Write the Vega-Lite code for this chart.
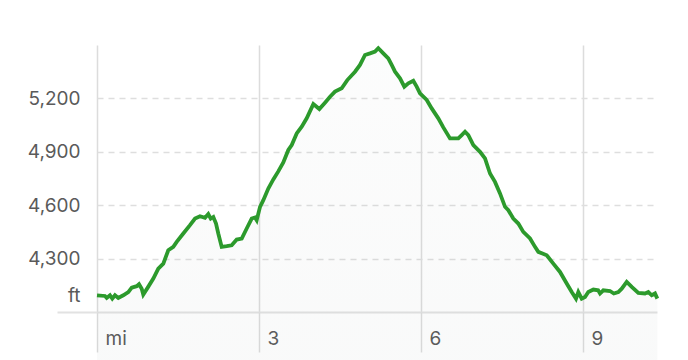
{
  "$schema": "https://vega.github.io/schema/vega-lite/v6.json",
  "width": 560,
  "height": 267,
  "autosize": {"type": "none"},
  "padding": {"left": 97, "top": 45, "right": 31, "bottom": 48},
  "background": "white",
  "config": {
    "view": {"stroke": null},
    "axis": {"labelFont": "Inter", "labelFontSize": 19, "labelColor": "#5a5a5a", "title": null}
  },
  "data": {
    "values": [
      {"mi": 0.0, "ft": 4094}, {"mi": 0.148, "ft": 4090}, {"mi": 0.18, "ft": 4079}, {"mi": 0.24, "ft": 4094},
      {"mi": 0.283, "ft": 4075}, {"mi": 0.333, "ft": 4094}, {"mi": 0.394, "ft": 4079}, {"mi": 0.487, "ft": 4094},
      {"mi": 0.58, "ft": 4112}, {"mi": 0.643, "ft": 4137}, {"mi": 0.735, "ft": 4145}, {"mi": 0.778, "ft": 4156},
      {"mi": 0.828, "ft": 4131}, {"mi": 0.857, "ft": 4098}, {"mi": 0.939, "ft": 4137}, {"mi": 1.043, "ft": 4188},
      {"mi": 1.135, "ft": 4244}, {"mi": 1.228, "ft": 4272}, {"mi": 1.32, "ft": 4347}, {"mi": 1.413, "ft": 4366},
      {"mi": 1.476, "ft": 4394}, {"mi": 1.598, "ft": 4441}, {"mi": 1.722, "ft": 4488}, {"mi": 1.815, "ft": 4525},
      {"mi": 1.907, "ft": 4538}, {"mi": 2.0, "ft": 4529}, {"mi": 2.061, "ft": 4550}, {"mi": 2.106, "ft": 4525},
      {"mi": 2.154, "ft": 4534}, {"mi": 2.204, "ft": 4497}, {"mi": 2.246, "ft": 4441}, {"mi": 2.309, "ft": 4366},
      {"mi": 2.402, "ft": 4370}, {"mi": 2.494, "ft": 4375}, {"mi": 2.587, "ft": 4407}, {"mi": 2.68, "ft": 4413},
      {"mi": 2.772, "ft": 4469}, {"mi": 2.865, "ft": 4525}, {"mi": 2.926, "ft": 4531}, {"mi": 2.957, "ft": 4516},
      {"mi": 3.019, "ft": 4591}, {"mi": 3.08, "ft": 4628}, {"mi": 3.172, "ft": 4694}, {"mi": 3.265, "ft": 4745},
      {"mi": 3.357, "ft": 4790}, {"mi": 3.45, "ft": 4840}, {"mi": 3.543, "ft": 4910}, {"mi": 3.606, "ft": 4938},
      {"mi": 3.698, "ft": 5003}, {"mi": 3.791, "ft": 5041}, {"mi": 3.883, "ft": 5088}, {"mi": 4.006, "ft": 5168},
      {"mi": 4.117, "ft": 5140}, {"mi": 4.222, "ft": 5176}, {"mi": 4.315, "ft": 5209}, {"mi": 4.407, "ft": 5238},
      {"mi": 4.531, "ft": 5257}, {"mi": 4.635, "ft": 5303}, {"mi": 4.778, "ft": 5350}, {"mi": 4.87, "ft": 5388},
      {"mi": 4.963, "ft": 5444}, {"mi": 5.056, "ft": 5453}, {"mi": 5.148, "ft": 5463}, {"mi": 5.209, "ft": 5482},
      {"mi": 5.302, "ft": 5453}, {"mi": 5.394, "ft": 5425}, {"mi": 5.457, "ft": 5388}, {"mi": 5.519, "ft": 5350},
      {"mi": 5.611, "ft": 5313}, {"mi": 5.691, "ft": 5266}, {"mi": 5.765, "ft": 5285}, {"mi": 5.857, "ft": 5299},
      {"mi": 5.92, "ft": 5266}, {"mi": 5.981, "ft": 5228}, {"mi": 6.106, "ft": 5191}, {"mi": 6.198, "ft": 5144},
      {"mi": 6.32, "ft": 5088}, {"mi": 6.413, "ft": 5037}, {"mi": 6.537, "ft": 4975}, {"mi": 6.691, "ft": 4975},
      {"mi": 6.754, "ft": 4994}, {"mi": 6.815, "ft": 5013}, {"mi": 6.876, "ft": 4994}, {"mi": 6.969, "ft": 4938},
      {"mi": 7.093, "ft": 4900}, {"mi": 7.185, "ft": 4863}, {"mi": 7.278, "ft": 4778}, {"mi": 7.37, "ft": 4731},
      {"mi": 7.463, "ft": 4666}, {"mi": 7.556, "ft": 4591}, {"mi": 7.617, "ft": 4572}, {"mi": 7.709, "ft": 4525},
      {"mi": 7.802, "ft": 4497}, {"mi": 7.894, "ft": 4450}, {"mi": 8.019, "ft": 4413}, {"mi": 8.111, "ft": 4366},
      {"mi": 8.172, "ft": 4338}, {"mi": 8.328, "ft": 4319}, {"mi": 8.45, "ft": 4272}, {"mi": 8.574, "ft": 4225},
      {"mi": 8.698, "ft": 4160}, {"mi": 8.791, "ft": 4112}, {"mi": 8.87, "ft": 4075}, {"mi": 8.913, "ft": 4112},
      {"mi": 8.976, "ft": 4075}, {"mi": 9.037, "ft": 4084}, {"mi": 9.098, "ft": 4112}, {"mi": 9.191, "ft": 4126},
      {"mi": 9.28, "ft": 4122}, {"mi": 9.315, "ft": 4104}, {"mi": 9.376, "ft": 4122}, {"mi": 9.5, "ft": 4118},
      {"mi": 9.57, "ft": 4104}, {"mi": 9.654, "ft": 4112}, {"mi": 9.717, "ft": 4131}, {"mi": 9.809, "ft": 4169},
      {"mi": 9.902, "ft": 4141}, {"mi": 10.024, "ft": 4107}, {"mi": 10.148, "ft": 4104}, {"mi": 10.209, "ft": 4112},
      {"mi": 10.272, "ft": 4094}, {"mi": 10.333, "ft": 4104}, {"mi": 10.376, "ft": 4075}
    ]
  },
  "encoding": {
    "x": {
      "field": "mi", "type": "quantitative",
      "scale": {"domain": [0, 10.37], "nice": false, "zero": false},
      "axis": {
        "values": [0, 3, 6, 9],
        "labelExpr": "datum.value == 0 ? 'mi' : datum.label",
        "grid": true, "gridColor": "#dcdcdc", "gridWidth": 1.5,
        "domain": false,
        "ticks": true, "tickSize": 40, "tickColor": "#dcdcdc", "tickWidth": 1.5,
        "labelAlign": "left", "labelBaseline": "middle",
        "labelPadding": -14, "labelOffset": 8,
        "labelFlush": false, "labelBound": false, "labelOverlap": false
      }
    },
    "y": {
      "field": "ft", "type": "quantitative",
      "scale": {"domain": [4000, 5500], "nice": false, "zero": false},
      "axis": {
        "values": [4000, 4300, 4600, 4900, 5200],
        "labelExpr": "datum.value == 4000 ? 'ft' : datum.label",
        "grid": true,
        "gridColor": {"condition": {"test": "datum.value == 4000", "value": "#e2e2e2"}, "value": "#dedede"},
        "gridDash": {"condition": {"test": "datum.value == 4000", "value": []}, "value": [6, 5]},
        "gridWidth": {"condition": {"test": "datum.value == 4000", "value": 2}, "value": 1.3},
        "domain": false,
        "ticks": true, "tickSize": 40,
        "tickColor": {"condition": {"test": "datum.value == 4000", "value": "#e2e2e2"}, "value": "transparent"},
        "tickWidth": 2,
        "labelPadding": -23,
        "labelOffset": {"condition": {"test": "datum.value == 4000", "value": -17}, "value": 0},
        "labelFlush": false, "labelBound": false, "labelOverlap": false
      }
    }
  },
  "layer": [
    {
      "mark": {
        "type": "area",
        "color": {
          "gradient": "linear", "x1": 0, "y1": 0, "x2": 0, "y2": 1,
          "stops": [
            {"offset": 0, "color": "rgba(110,125,125,0.02)"},
            {"offset": 1, "color": "rgba(110,125,125,0.09)"}
          ]
        }
      }
    },
    {
      "mark": {"type": "line", "color": "#2c9a2c", "strokeWidth": 3.8, "strokeJoin": "miter"}
    }
  ]
}
